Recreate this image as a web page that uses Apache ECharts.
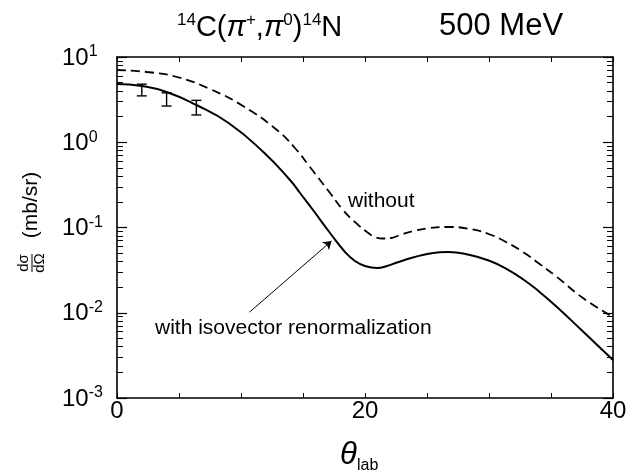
<!DOCTYPE html>
<html><head><meta charset="utf-8">
<script src="https://cdn.jsdelivr.net/npm/echarts@6/dist/echarts.min.js"></script>
<style>html,body{margin:0;padding:0;background:#fff}#c{width:630px;height:473px}</style>
</head><body><div id="c"></div>
<script>
// ---- data ----
const solidTheta  = [0, 2, 4, 6.4, 9, 11.8, 13.95, 14.76, 15.81, 17.18, 18.39, 19.19, 20.0, 20.97, 21.77, 22.58, 23.87, 25.24, 26.69, 28.47, 30.08, 31.37, 32.74, 34.03, 35.48, 37.58, 40];
const solidValues = [4.825, 4.568, 3.886, 2.735, 1.682, 0.7685, 0.3607, 0.2539, 0.1604, 0.08618, 0.05161, 0.04046, 0.03535, 0.03349, 0.03535, 0.03884, 0.04447, 0.04955, 0.05161, 0.04757, 0.04046, 0.03286, 0.02474, 0.0178, 0.01168, 0.006026, 0.002791];
const dashedTheta  = [0, 2.42, 4.84, 7.5, 10.16, 12.9, 14.35, 15.56, 17.18, 18.23, 19.19, 20.16, 20.81, 21.45, 22.1, 22.82, 23.87, 25.24, 26.61, 28.47, 30.08, 31.37, 32.74, 34.03, 35.48, 37.58, 40];
const dashedValues = [7.039, 6.668, 5.827, 4.213, 2.662, 1.392, 0.8562, 0.5125, 0.2539, 0.1604, 0.116, 0.08854, 0.07738, 0.0743, 0.07527, 0.08166, 0.09097, 0.09865, 0.1014, 0.09603, 0.08277, 0.0676, 0.05161, 0.03781, 0.02626, 0.01489, 0.00891];
const expTheta  = [2.0, 4.0, 6.4];
const expValues = [4.1, 3.2, 2.6];
const expLow    = [3.5, 2.66, 2.09];
const expHigh   = [4.8, 3.8, 3.1];
const xTickLabels = [0, 20, 40];
const xMin = 0, xMax = 40;
const yMin = 0.001, yMax = 10;
const arrowFrom = [10.7, 0.0102];
const arrowTo   = [17.3, 0.0695];

const FONT = 'Liberation Sans, Arial, Helvetica, sans-serif';
// minor log ticks (2..9 in each decade), drawn as short axis-anchored segments on both sides
const minorVals = [];
for (let e = -3; e < 1; e++) for (let k = 2; k <= 9; k++) minorVals.push(+(k * Math.pow(10, e)).toPrecision(6));
const tickLen = 0.48; // in x-axis units (about 6 px)
const minorTickLines = [];
minorVals.forEach(v => {
  minorTickLines.push([{coord: [xMin, v]}, {coord: [xMin + tickLen, v]}]);
  minorTickLines.push([{coord: [xMax - tickLen, v]}, {coord: [xMax, v]}]);
});

const chart = echarts.init(document.getElementById('c'), null, {renderer: 'canvas'});
const axLine = () => ({show: true, onZero: false, lineStyle: {color: '#000', width: 1.6}});
const option = {
  animation: false,
  backgroundColor: '#fff',
  grid: {left: 117, right: 17, top: 57, bottom: 75, containLabel: false},
  xAxis: [
    {type: 'value', min: xMin, max: xMax, interval: 5, position: 'bottom',
     axisLine: axLine(), splitLine: {show: false},
     axisTick: {show: true, inside: true, length: 5, lineStyle: {color: '#000', width: 1}},
     axisLabel: {color: '#000', fontSize: 24, fontFamily: FONT, margin: 1,
       formatter: v => xTickLabels.includes(v) ? String(v) : ''}},
    {type: 'value', min: xMin, max: xMax, interval: 5, position: 'top',
     axisLine: axLine(), splitLine: {show: false},
     axisTick: {show: true, inside: true, length: 5, lineStyle: {color: '#000', width: 1}},
     axisLabel: {show: false}}
  ],
  yAxis: [
    {type: 'log', logBase: 10, min: yMin, max: yMax, position: 'left',
     axisLine: axLine(), splitLine: {show: false},
     axisTick: {show: true, inside: true, length: 10, lineStyle: {color: '#000', width: 1.2}},
     axisLabel: {align: 'left', margin: 55, color: '#000',
       formatter: v => '{b|10}{e|' + Math.round(Math.log10(v)) + '}',
       rich: {b: {fontSize: 24, fontFamily: FONT, color: '#000', lineHeight: 26, verticalAlign: 'bottom'},
              e: {fontSize: 16, fontFamily: FONT, color: '#000', lineHeight: 16, verticalAlign: 'top'}}}},
    {type: 'log', logBase: 10, min: yMin, max: yMax, position: 'right',
     axisLine: axLine(), splitLine: {show: false},
     axisTick: {show: true, inside: true, length: 10, lineStyle: {color: '#000', width: 1.2}},
     axisLabel: {show: false}}
  ],
  series: [
    {type: 'line', name: 'with', data: solidTheta.map((t, i) => [t, solidValues[i]]),
     showSymbol: false, smooth: 0.5, lineStyle: {color: '#000', width: 2}, z: 3,
     markLine: {silent: true, symbol: ['none', 'arrow'], symbolSize: 8, animation: false,
       lineStyle: {color: '#000', width: 1, type: 'solid'}, label: {show: false},
       data: [[{coord: arrowFrom}, {coord: arrowTo}]]}},
    {type: 'line', name: 'without', data: dashedTheta.map((t, i) => [t, dashedValues[i]]),
     showSymbol: false, smooth: 0.5, lineStyle: {color: '#000', width: 1.8, type: [9, 5]}, z: 3,
     markLine: {silent: true, symbol: ['none', 'none'], animation: false, precision: 6,
       lineStyle: {color: '#000', width: 1, type: 'solid', opacity: 1}, label: {show: false},
       emphasis: {disabled: true},
       data: minorTickLines}},
    {type: 'custom', name: 'data', clip: false,
     data: expTheta.map((t, i) => [t, expValues[i], expLow[i], expHigh[i]]),
     encode: {x: 0, y: 1},
     renderItem: (params, api) => {
       const lo = api.coord([api.value(0), api.value(2)]);
       const hi = api.coord([api.value(0), api.value(3)]);
       const st = {stroke: '#000', lineWidth: 1.4};
       return {type: 'group', children: [
         {type: 'line', shape: {x1: lo[0], y1: lo[1], x2: hi[0], y2: hi[1]}, style: st},
         {type: 'line', shape: {x1: lo[0] - 5, y1: lo[1], x2: lo[0] + 5, y2: lo[1]}, style: st},
         {type: 'line', shape: {x1: hi[0] - 5, y1: hi[1], x2: hi[0] + 5, y2: hi[1]}, style: st}
       ]};
     }}
  ],
  graphic: [
    {type: 'text', x: 177, y: 27, style: {
      text: '{s|14}{n|C(}{p|π}{s|+}{n|,}{p|π}{s|0}{n|)}{s|14}{n|N}',
      align: 'left', verticalAlign: 'middle', textAlign: 'left', textVerticalAlign: 'middle',
      rich: {
        n: {fontSize: 29, fontFamily: FONT, fill: '#000', lineHeight: 31, verticalAlign: 'bottom'},
        p: {fontSize: 29, fontFamily: FONT, fontStyle: 'italic', fill: '#000', lineHeight: 31, verticalAlign: 'bottom'},
        s: {fontSize: 17, fontFamily: FONT, fill: '#000', lineHeight: 17, verticalAlign: 'top'}
      }}},
    {type: 'text', x: 439, y: 26, style: {text: '500 MeV', font: '31px ' + FONT, fill: '#000',
      align: 'left', verticalAlign: 'middle', textAlign: 'left', textVerticalAlign: 'middle'}},
    {type: 'group', x: 31, y: 230, rotation: Math.PI / 2, children: [
      {type: 'text', x: 25, y: 0, style: {text: '(mb/sr)', font: '21px ' + FONT, fill: '#000',
        align: 'center', verticalAlign: 'middle', textAlign: 'center', textVerticalAlign: 'middle'}},
      {type: 'text', x: -33, y: -7, style: {text: 'dσ', font: '15px ' + FONT, fill: '#000',
        align: 'center', verticalAlign: 'middle', textAlign: 'center', textVerticalAlign: 'middle'}},
      {type: 'text', x: -33, y: 9, style: {text: 'dΩ', font: '15px ' + FONT, fill: '#000',
        align: 'center', verticalAlign: 'middle', textAlign: 'center', textVerticalAlign: 'middle'}},
      {type: 'line', shape: {x1: -42, y1: 1, x2: -24, y2: 1}, style: {stroke: '#000', lineWidth: 1}}
    ]},
    {type: 'text', x: 348, y: 201, style: {text: 'without', font: '21px ' + FONT, fill: '#000',
      align: 'left', verticalAlign: 'middle', textAlign: 'left', textVerticalAlign: 'middle'}},
    {type: 'text', x: 155, y: 328, style: {text: 'with isovector renormalization', font: '21px ' + FONT, fill: '#000',
      align: 'left', verticalAlign: 'middle', textAlign: 'left', textVerticalAlign: 'middle'}},
    {type: 'text', x: 340, y: 455, style: {text: 'θ', font: 'italic 31px ' + FONT, fill: '#000',
      align: 'left', verticalAlign: 'middle', textAlign: 'left', textVerticalAlign: 'middle'}},
    {type: 'text', x: 357, y: 466, style: {text: 'lab', font: '16px ' + FONT, fill: '#000',
      align: 'left', verticalAlign: 'middle', textAlign: 'left', textVerticalAlign: 'middle'}}
  ]
};
chart.setOption(option);
</script></body></html>
